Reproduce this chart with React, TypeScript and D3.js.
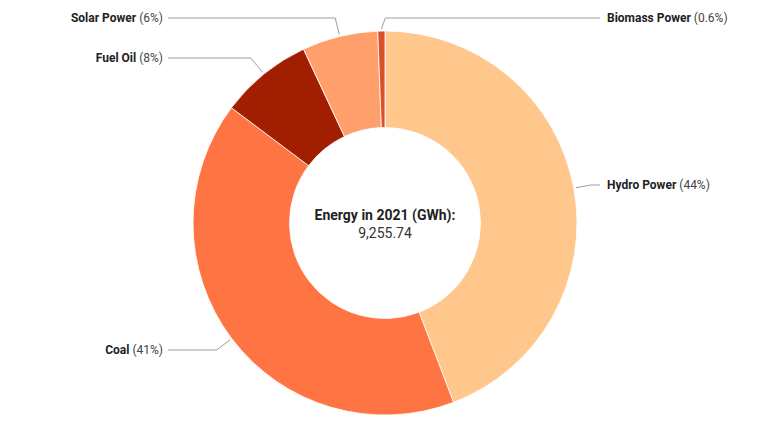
import React from "react";
import * as d3 from "d3";

const categories = ["Hydro Power", "Coal", "Fuel Oil", "Solar Power", "Biomass Power"];
const values = [4090, 3800, 720, 590, 55.74];
const percentLabels = ["44%", "41%", "8%", "6%", "0.6%"];
const colors = ["#ffc78b", "#ff7443", "#a11f00", "#ff9f6b", "#d9512a"];
const labelY = [185, 350, 58, 18, 18];
const centerTitle = "Energy in 2021 (GWh):";
const centerValue = "9,255.74";

const W = 768;
const H = 435;
const cx = 385;
const cy = 223;
const R = 192;
const r0 = 95.5;

export default function App() {
  const data = categories.map((c, i) => ({ c, v: values[i], i }));
  const pie = d3.pie<any>().value((d) => d.v).sort(null);
  const arcs = pie(data);
  const arc = d3.arc<any>().innerRadius(r0).outerRadius(R);
  const font = "Roboto, 'Noto Sans', sans-serif";

  return (
    <svg width={W} height={H} style={{ position: "absolute", left: 0, top: 0, display: "block" }} fontFamily={font}>
      <rect width={W} height={H} fill="#fff" />
      <g transform={`translate(${cx},${cy})`}>
        {arcs.map((a, i) => (
          <path key={i} d={arc(a) as string} fill={colors[i]} stroke="#fff" strokeWidth={0.8} />
        ))}
      </g>
      {arcs.map((a, i) => {
        const mid = (a.startAngle + a.endAngle) / 2;
        const s = Math.sin(mid);
        const c = Math.cos(mid);
        const x1 = cx + (R + 2) * s;
        const y1 = cy - (R + 2) * c;
        const ly = labelY[i];
        const nearTop = Math.abs(s) < 0.05;
        const right = s >= 0 || nearTop;
        const rr = Math.abs(c) > 0.05 ? (cy - ly) / c : R + 20;
        let ex = nearTop ? x1 + 4 : cx + rr * s;
        const endX = right ? 600 : 168;
        if (right && ex > endX - 4) ex = endX - 4;
        if (!right && ex < endX + 4) ex = endX + 4;
        const textX = right ? 607 : 163;
        return (
          <g key={i}>
            <polyline
              points={`${x1},${y1} ${ex},${ly} ${endX},${ly}`}
              fill="none"
              stroke="#9e9e9e"
              strokeWidth={1}
            />
            <text x={textX} y={ly + 4} fontSize={12} textAnchor={right ? "start" : "end"}>
              <tspan fontWeight="bold" fill="#222">{categories[i]}</tspan>
              <tspan fill="#444">{` (${percentLabels[i]})`}</tspan>
            </text>
          </g>
        );
      })}
      <text x={cx} y={220} textAnchor="middle" fontSize={14} fontWeight="bold" fill="#222">
        {centerTitle}
      </text>
      <text x={cx} y={238} textAnchor="middle" fontSize={14} fill="#333">
        {centerValue}
      </text>
    </svg>
  );
}
